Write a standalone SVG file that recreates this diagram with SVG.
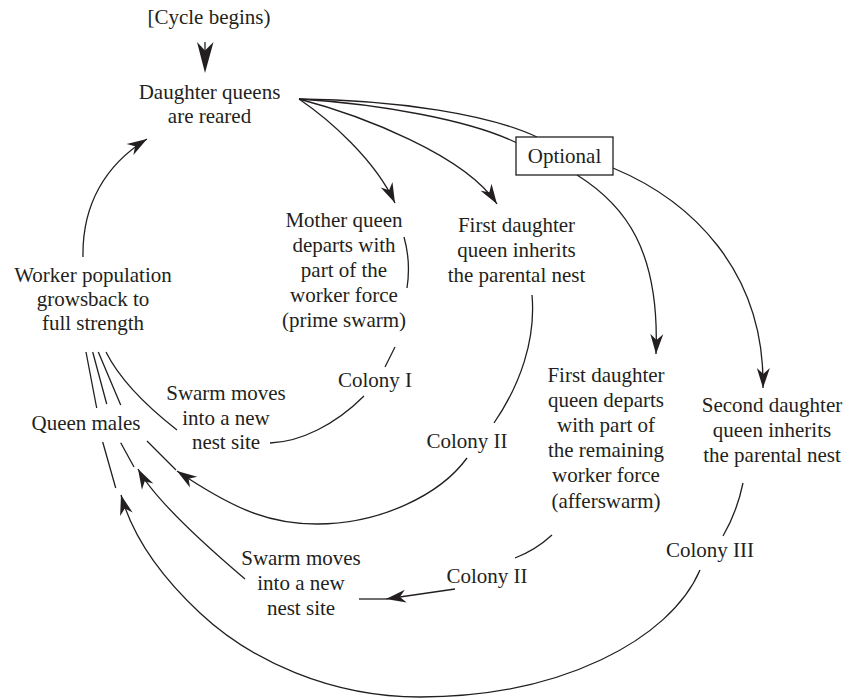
<svg xmlns="http://www.w3.org/2000/svg" width="849" height="699" viewBox="0 0 849 699">
<style>
text{font-family:"Liberation Serif","Times New Roman",serif;font-size:21px;fill:#231f20;text-anchor:middle}
.c{fill:none;stroke:#231f20;stroke-width:1.3}
.a{marker-end:url(#ah)}
.box{fill:#fff;stroke:#231f20;stroke-width:1.3}
</style>
<defs>
<marker id="ah" viewBox="-21 -7 22 14" markerWidth="22" markerHeight="14" refX="0" refY="0" orient="auto" markerUnits="userSpaceOnUse">
<path d="M0,0 L-20,-6.5 L-14,0 L-20,6.5 Z" fill="#231f20"/>
</marker>
</defs>
<rect width="849" height="699" fill="#fff"/>
<g id="connectors">
<path d="M205,42 V51" class="c"/>
<polygon points="205,73 197,42 205,50.5 213.5,42" fill="#231f20"/>
<path class="c a" d="M299,99 C330,120 375,160 395,203"/>
<path class="c a" d="M299,99 C360,115 465,155 497,204"/>
<path class="c" d="M299,99 C400,100 490,115 537,137"/>
<path class="c" d="M299,99 C380,104 470,120 517,143"/>
<path class="c a" d="M577,175 C625,205 660,250 656,354"/>
<path class="c a" d="M613,168 C690,200 765,270 763,388"/>
<path class="c a" d="M83,257 C82,205 105,165 147,139"/>
<path class="c" d="M404,237 Q411,262 407,288"/>
<path class="c" d="M395,347 L385,367"/>
<path class="c" d="M364,396 C335,425 300,442 270,443"/>
<path class="c" d="M177,430 C145,405 120,380 106,352"/>
<path class="c" d="M532,295 C536,340 520,385 494,423"/>
<path class="c a" d="M467,458 C440,495 380,524 317,524 C270,524 235,510 177,471"/>
<path class="c" d="M176,470 L147,441 M120.7,405 L98.3,352"/>
<path class="c" d="M552,535 C540,546 528,553 515,558"/>
<path class="c a" d="M455,589 L386,599"/>
<path class="c" d="M386,599 H359"/>
<path class="c a" d="M245,579 C205,545 155,500 138,469"/>
<path class="c" d="M134,467 L120.7,442.7 M106.7,404 L92.7,352"/>
<path class="c" d="M743,483 Q737,512 723,536"/>
<path class="c a" d="M700,570 C670,640 560,697 420,697 C330,697 250,660 200,613 C170,585 135,545 121,495"/>
<path class="c" d="M115.7,488 L102.7,442 M96.7,408 L86,352"/>
</g>
<g id="n-cycle"><text x="209" y="24">[Cycle begins)</text></g>
<g id="n-daughters"><text x="209.5" y="99">Daughter queens</text><text x="209.5" y="123">are reared</text></g>
<g id="n-mother"><text x="344" y="227">Mother queen</text><text x="344" y="252">departs with</text><text x="344" y="277">part of the</text><text x="344" y="302">worker force</text><text x="344" y="327">(prime swarm)</text></g>
<g id="n-first-inherits"><text x="516.5" y="232">First daughter</text><text x="516.5" y="257">queen inherits</text><text x="516.5" y="282">the parental nest</text></g>
<g id="n-worker"><text x="93" y="282">Worker population</text><text x="93" y="306">growsback to</text><text x="93" y="330">full strength</text></g>
<g id="n-queen-males"><text x="86" y="430">Queen males</text></g>
<g id="n-swarm1"><text x="226" y="400">Swarm moves</text><text x="226" y="425">into a new</text><text x="226" y="449">nest site</text></g>
<g id="n-colony1"><text x="375" y="387">Colony I</text></g>
<g id="n-colony2a"><text x="467" y="448">Colony II</text></g>
<g id="n-optional"><rect class="box" x="516" y="137" width="97" height="38"/><text x="564.5" y="163">Optional</text></g>
<g id="n-first-departs"><text x="606" y="382">First daughter</text><text x="606" y="407">queen departs</text><text x="606" y="432">with part of</text><text x="606" y="457">the remaining</text><text x="606" y="482">worker force</text><text x="606" y="508">(afferswarm)</text></g>
<g id="n-second"><text x="772" y="412">Second daughter</text><text x="772" y="437">queen inherits</text><text x="772" y="462">the parental nest</text></g>
<g id="n-colony3"><text x="710" y="557">Colony III</text></g>
<g id="n-colony2b"><text x="487" y="583">Colony II</text></g>
<g id="n-swarm2"><text x="301" y="565">Swarm moves</text><text x="301" y="590">into a new</text><text x="301" y="615">nest site</text></g>
</svg>
